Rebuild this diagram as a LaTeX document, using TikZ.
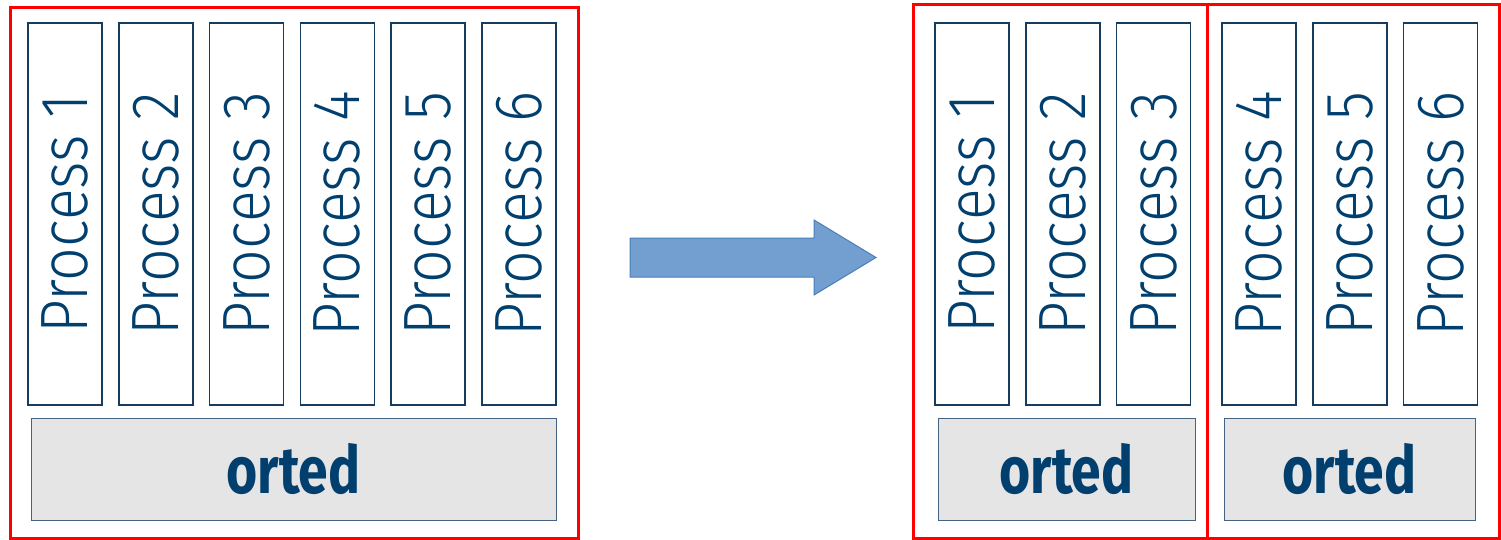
\documentclass[tikz,border=0pt]{standalone}
\usepackage{fontspec}
\usepackage{tikz}
\usetikzlibrary{positioning}
\usepackage{xcolor}
\usepackage{graphicx}

\newfontfamily\procfont[FakeStretch=0.88]{Fira Sans Light}
\newfontfamily\sortfont[FakeStretch=0.81]{Fira Sans}
\newcommand{\vtxt}[1]{\rotatebox{90}{#1}}

\definecolor{txtblue}{RGB}{0,63,110}
\definecolor{boxblue}{RGB}{22,60,96}
\definecolor{sortgray}{RGB}{229,229,229}
\definecolor{arrfill}{RGB}{114,159,207}
\definecolor{arredge}{RGB}{74,126,187}

\begin{document}
\begin{tikzpicture}[x=1pt,y=-1pt,node distance=90.8pt,on grid]
  \useasboundingbox (0,0) rectangle (1501,540);

  \tikzset{proc/.style={draw=boxblue,line width=1.5pt,minimum width=74pt,minimum height=382pt,inner sep=0pt,text=txtblue,font=\procfont\fontsize{67}{70}\selectfont}}
  \tikzset{sorted/.style={draw=boxblue!80,line width=1pt,fill=sortgray,minimum height=102pt,inner sep=0pt,text=txtblue,font=\sortfont\bfseries\fontsize{66}{70}\selectfont}}
  \tikzset{frame/.style={draw=red,line width=3pt}}
  \tikzset{bigarrow/.style={fill=arrfill,draw=arredge,line width=1pt}}

  % before: one job, six processes
  \node[proc]          (p1) at (65,214) {\vtxt{Process 1}};
  \node[proc]          (p2) [right =of p1] {\vtxt{Process 2}};
  \node[proc]          (p3) [right =of p2] {\vtxt{Process 3}};
  \node[proc]          (p4) [right =of p3] {\vtxt{Process 4}};
  \node[proc]          (p5) [right =of p4] {\vtxt{Process 5}};
  \node[proc]          (p6) [right =of p5] {\vtxt{Process 6}};
  \node[sorted,minimum width=525pt] (s)  at (293.5,469) {orted};
  \draw[frame] (10,8) rectangle (578,538);

  % the arrow
  \draw[bigarrow] (630,238) -- (814,238) -- (814,220) -- (876,257.5)
                  -- (814,295) -- (814,277) -- (630,277) -- cycle;

  % after: split in two
  \node[proc]          (q1) at (972,214) {\vtxt{Process 1}};
  \node[proc]          (q2) [right =of q1] {\vtxt{Process 2}};
  \node[proc]          (q3) [right =of q2] {\vtxt{Process 3}};
  \node[proc]          (q4) at (1259,214) {\vtxt{Process 4}};
  \node[proc]          (q5) [right =of q4] {\vtxt{Process 5}};
  \node[proc]          (q6) [right =of q5] {\vtxt{Process 6}};
  \node[sorted,minimum width=257pt] (sa) at (1066.5,469) {orted};
  \node[sorted,minimum width=251pt] (sb) at (1349.5,469) {orted};
  \draw[frame] (913,5) rectangle (1207.5,538);
  \draw[frame] (1207.5,5) rectangle (1499,538);
\end{tikzpicture}
\end{document}
